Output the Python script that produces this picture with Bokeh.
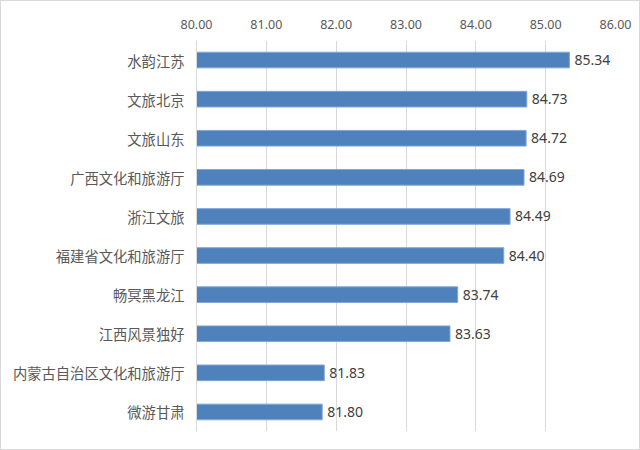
from bokeh.plotting import figure
from bokeh.models import ColumnDataSource, FactorRange, Range1d, FixedTicker, LabelSet, NumeralTickFormatter
from bokeh.core.properties import value
from bokeh.embed import file_html
from bokeh.resources import INLINE

categories = ["水韵江苏", "文旅北京", "文旅山东", "广西文化和旅游厅", "浙江文旅",
              "福建省文化和旅游厅", "畅冥黑龙江", "江西风景独好", "内蒙古自治区文化和旅游厅", "微游甘肃"]
values = [85.34, 84.73, 84.72, 84.69, 84.49, 84.40, 83.74, 83.63, 81.83, 81.80]
ticks = [80, 81, 82, 83, 84, 85, 86]

labels = ["%.2f" % v for v in values]
src = ColumnDataSource(dict(cat=categories, val=values, lab=labels))

p = figure(width=640, height=450, output_backend="svg", toolbar_location=None,
           y_range=FactorRange(*categories[::-1], range_padding=0, range_padding_units="absolute"),
           x_range=Range1d(80, 86), x_axis_location="above",
           min_border_left=195, min_border_right=26, min_border_top=39, min_border_bottom=20)

p.hbar(y="cat", left=80, right="val", height=0.4, source=src,
       fill_color="#4F81BD", line_color="#7FA7D8", line_width=1)

p.add_layout(LabelSet(x="val", y="cat", text="lab", source=src, x_offset=5,
                      text_baseline="middle", text_align="left",
                      text_font=value("Noto Sans"), text_font_size="14px", text_color="#404040"))

p.xaxis.ticker = FixedTicker(ticks=ticks)
p.xaxis.formatter = NumeralTickFormatter(format="0.00")
p.xaxis.axis_line_color = None
p.xaxis.major_tick_line_color = None
p.xaxis.minor_tick_line_color = None
p.xaxis.major_tick_out = 0
p.xaxis.major_label_standoff = 12
p.xaxis.major_label_text_font = "Noto Sans"
p.xaxis.major_label_text_font_size = "12.5px"
p.xaxis.major_label_text_color = "#595959"

p.yaxis.axis_line_color = "#D9D9D9"
p.yaxis.major_tick_line_color = None
p.yaxis.minor_tick_line_color = None
p.yaxis.major_tick_out = 0
p.yaxis.major_label_standoff = 12
p.yaxis.major_label_text_font = "Noto Sans CJK SC"
p.yaxis.major_label_text_font_size = "14.3px"
p.yaxis.major_label_text_color = "#595959"

p.xgrid.grid_line_color = "#D9D9D9"
p.ygrid.grid_line_color = None
p.outline_line_color = None
p.styles = {"border": "1px solid #D9D9D9", "box-sizing": "border-box"}

open("out.html", "w").write(file_html(p, INLINE))
